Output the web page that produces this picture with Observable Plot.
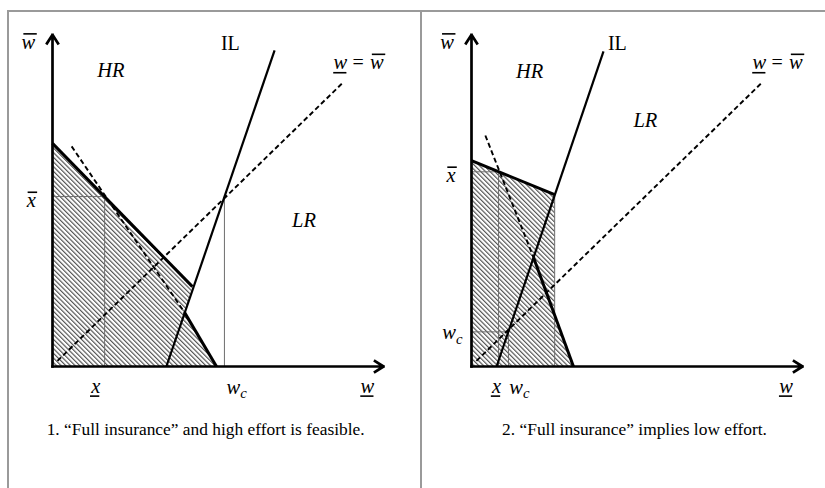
<!DOCTYPE html>
<html>
<head>
<meta charset="utf-8">
<script src="https://cdn.jsdelivr.net/npm/d3@7"></script>
<script src="https://cdn.jsdelivr.net/npm/@observablehq/plot@0.6"></script>
<style>
  body { margin: 0; background: #fff; }
  #wrap { position: relative; width: 825px; height: 488px; overflow: hidden; background: #fff; }
  .frame { position: absolute; top: 10px; height: 480px; border-top: 2px solid #9a9a9a; border-left: 2px solid #9a9a9a; z-index: 2; pointer-events: none; }
  .panel { position: absolute; top: 10px; z-index: 1; }
</style>
</head>
<body>
<div id="wrap">
  <div class="frame" style="left:7px;width:413px"></div>
  <div class="frame" style="left:420px;width:410px"></div>
  <div class="panel" id="p1" style="left:8px"></div>
  <div class="panel" id="p2" style="left:421px"></div>
</div>
<script>
// ---------- data (abstract diagram units; both axes run 0..10) ----------
const axisEnds = [[0, 0, 0, 10.05], [0, 0, 10.03, 0]];   // y axis, x axis (with arrowheads)

// Panel 1: "Full insurance" and high effort is feasible
const p1Feasible = [[0, 6.76], [4.24, 2.42], [4.0, 1.64], [4.97, 0], [0, 0]];
const p1Thick    = [[0, 6.76, 4.24, 2.42], [4.0, 1.64, 4.97, 0]];
const p1IL       = [[3.45, 0, 6.73, 9.58]];
const p1Dashed   = [[0.58, 6.67, 4.0, 1.64], [0.15, 0.17, 8.82, 8.62]];
const p1Thin     = [[0, 5.15, 1.58, 5.15], [1.58, 5.15, 1.58, 0], [5.21, 5.15, 5.21, 0]];
const p1Labels = [
  {t: "w",   x: -0.73, y: 9.82, deco: "over"},
  {t: "w",   x: 8.72,  y: 9.20, deco: "under"},
  {t: "w",   x: 9.83,  y: 9.20, deco: "over"},
  {t: "HR",  x: 1.77,  y: 8.97, deco: "none"},
  {t: "LR",  x: 7.62,  y: 4.42, deco: "none"},
  {t: "x",   x: -0.64, y: 5.02, deco: "over"},
  {t: "x",   x: 1.31,  y: -0.60, deco: "under"},
  {t: "w_c", x: 5.58,  y: -0.64, deco: "none"},
  {t: "w",   x: 9.54,  y: -0.60, deco: "under"}
];
const p1Roman = [{t: "IL", x: 5.39, y: 9.80}, {t: "=", x: 9.26, y: 9.22}];
const p1Caption = [{t: "1. \u201CFull insurance\u201D and high effort is feasible.", x: 4.64, y: -1.9}];

// Panel 2: "Full insurance" implies low effort
const p2Feasible = [[0, 6.24], [2.52, 5.21], [2.52, 1.55], [3.09, 0], [0, 0]];
const p2Thick    = [[0, 6.24, 2.52, 5.21], [1.88, 3.30, 3.09, 0]];
const p2IL       = [[0.76, 0, 4.0, 9.55]];
const p2Dashed   = [[0.42, 7.0, 1.88, 3.30], [0.15, 0.17, 8.82, 8.62]];
const p2Thin     = [[0, 5.9, 0.82, 5.9], [0.82, 5.9, 0.82, 0], [0, 1.05, 1.12, 1.05], [1.12, 1.05, 1.12, 0], [2.52, 5.21, 2.52, 0]];
const p2Labels = [
  {t: "w",   x: -0.74, y: 9.82, deco: "over"},
  {t: "w",   x: 8.72,  y: 9.20, deco: "under"},
  {t: "w",   x: 9.83,  y: 9.20, deco: "over"},
  {t: "HR",  x: 1.76,  y: 8.94, deco: "none"},
  {t: "LR",  x: 5.27,  y: 7.45, deco: "none"},
  {t: "x",   x: -0.62, y: 5.78, deco: "over"},
  {t: "w_c", x: -0.58, y: 1.02, deco: "none"},
  {t: "x",   x: 0.76,  y: -0.60, deco: "under"},
  {t: "w_c", x: 1.45,  y: -0.64, deco: "none"},
  {t: "w",   x: 9.53,  y: -0.60, deco: "under"}
];
const p2Roman = [{t: "IL", x: 4.42, y: 9.78}, {t: "=", x: 9.26, y: 9.22}];
const p2Caption = [{t: "2. \u201CFull insurance\u201D implies low effort.", x: 4.94, y: -1.9}];

// ---------- drawing ----------
const H = 478;
const FS = 20.5;
const seg = {x1: d => d[0], y1: d => d[1], x2: d => d[2], y2: d => d[3]};
const mathFont = {fontFamily: "Liberation Serif", fontStyle: "italic", fontSize: FS, text: "t", x: "x", y: "y"};

function drawPanel(el, cfg) {
  const svg = Plot.plot({
    width: cfg.width, height: H,
    marginLeft: cfg.ml, marginRight: cfg.width - cfg.ml - 330,
    marginTop: 26, marginBottom: H - 26 - 330,
    x: {domain: [0, 10], axis: null},
    y: {domain: [0, 10], axis: null},
    style: {background: "transparent", overflow: "visible"},
    marks: [
      Plot.line(cfg.feasible, {x: d => d[0], y: d => d[1], fill: `url(#${cfg.id})`, stroke: "none"}),
      Plot.link(cfg.thin, {...seg, stroke: "#6e6e6e", strokeWidth: 1}),
      Plot.link(cfg.dashed, {...seg, stroke: "black", strokeWidth: 1.9, strokeDasharray: "5,3"}),
      Plot.link(cfg.il, {...seg, stroke: "black", strokeWidth: 2.2}),
      Plot.link(cfg.thick, {...seg, stroke: "black", strokeWidth: 3}),
      Plot.arrow(axisEnds, {...seg, stroke: "black", strokeWidth: 2.7, headLength: 5.6, headAngle: 66, strokeLinecap: "square"}),
      Plot.text(cfg.labels.filter(d => d.deco === "over"), {...mathFont, ariaDescription: "over"}),
      Plot.text(cfg.labels.filter(d => d.deco === "under"), {...mathFont, ariaDescription: "under"}),
      Plot.text(cfg.labels.filter(d => d.deco === "none"), {...mathFont}),
      Plot.text(cfg.roman, {text: "t", x: "x", y: "y", fontFamily: "Liberation Serif", fontSize: 20}),
      Plot.text(cfg.caption, {text: "t", x: "x", y: "y", fontFamily: "Liberation Serif", fontSize: 17.4})
    ]
  });
  const s = d3.select(svg);
  const pat = s.insert("defs", ":first-child").append("pattern")
    .attr("id", cfg.id).attr("patternUnits", "userSpaceOnUse")
    .attr("width", 3.3).attr("height", 3.3).attr("patternTransform", "rotate(-45)");
  pat.append("rect").attr("width", 3.3).attr("height", 3.3).attr("fill", "white");
  pat.append("line").attr("x1", 0.6).attr("y1", -1).attr("x2", 0.6).attr("y2", 4.3)
    .attr("stroke", "#404040").attr("stroke-width", 1.05);
  // subscripts (w_c)
  s.selectAll("text").each(function () {
    const t = this.textContent;
    if (t.includes("_")) {
      const [a, b] = t.split("_");
      this.textContent = "";
      const sel = d3.select(this);
      sel.append("tspan").text(a);
      sel.append("tspan").attr("dy", "0.28em").attr("font-size", "0.72em").text(b);
    }
  });
  document.getElementById(el).appendChild(svg);
  // over/under bars drawn from each label's own text box
  s.selectAll('g[aria-description="over"] text, g[aria-description="under"] text').each(function () {
    const over = this.parentNode.getAttribute("aria-description") === "over";
    const b = this.getBBox();
    const base = b.y + 0.891 * FS;
    const yy = over ? base - 15.4 : base + 3;
    const x1 = over ? b.x + 1.8 : b.x - 0.2;
    const x2 = over ? b.x + b.width + 1.2 : b.x + b.width - 1;
    const ln = d3.select(this.parentNode).append("line")
      .attr("x1", x1).attr("x2", x2).attr("y1", yy).attr("y2", yy)
      .attr("stroke", "black").attr("stroke-width", 1.6);
    const tr = this.getAttribute("transform");
    if (tr) ln.attr("transform", tr);
  });
}

drawPanel("p1", {id: "hatch1", width: 413, ml: 44, feasible: p1Feasible, thick: p1Thick, il: p1IL,
  dashed: p1Dashed, thin: p1Thin, labels: p1Labels, roman: p1Roman, caption: p1Caption});
drawPanel("p2", {id: "hatch2", width: 404, ml: 50, feasible: p2Feasible, thick: p2Thick, il: p2IL,
  dashed: p2Dashed, thin: p2Thin, labels: p2Labels, roman: p2Roman, caption: p2Caption});
</script>
</body>
</html>
